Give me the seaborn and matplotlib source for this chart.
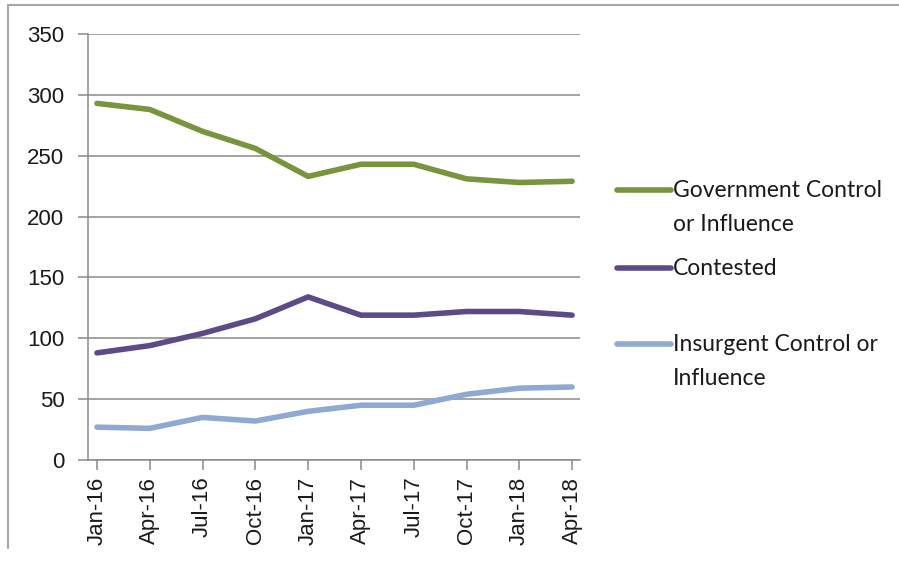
import matplotlib
matplotlib.use("Agg")
import matplotlib.pyplot as plt
import seaborn as sns
import pandas as pd
from matplotlib.lines import Line2D

# values
months = ["Jan-16", "Apr-16", "Jul-16", "Oct-16", "Jan-17",
          "Apr-17", "Jul-17", "Oct-17", "Jan-18", "Apr-18"]
government = [293, 288, 270, 256, 233, 243, 243, 231, 228, 229]
contested = [88, 94, 104, 116, 134, 119, 119, 122, 122, 119]
insurgent = [27, 26, 35, 32, 40, 45, 45, 54, 59, 60]

series_names = ["Government Control\nor Influence", "Contested",
                "Insurgent Control or\nInfluence"]
colors = ["#77953D", "#5E4A87", "#8FAAD2"]

df = pd.DataFrame({
    "month": months * 3,
    "pos": list(range(len(months))) * 3,
    "value": government + contested + insurgent,
    "series": [series_names[0]] * len(months) + [series_names[1]] * len(months)
              + [series_names[2]] * len(months),
})

sns.set_style("white")
plt.rcParams["font.family"] = ["Liberation Sans", "DejaVu Sans"]

fig = plt.figure(figsize=(8.99, 5.61), dpi=100)
ax = fig.add_axes([88 / 899, 1 - 460 / 561, (580 - 88) / 899, (460 - 34) / 561])

sns.lineplot(data=df, x="pos", y="value", hue="series", palette=colors,
             hue_order=series_names, linewidth=4, legend=False, ax=ax)

ax.set_xlim(-0.17, 9.15)
ax.set_ylim(0, 350)
ax.set_yticks(range(0, 351, 50))
ax.set_xticks(range(len(months)))
ax.set_xticklabels(months, rotation=90)
ax.set_xlabel("")
ax.set_ylabel("")
ax.grid(axis="y", color="#8a8a8a", linewidth=1.1)
ax.set_axisbelow(True)
for side in ["top", "right"]:
    ax.spines[side].set_visible(False)
for side in ["left", "bottom"]:
    ax.spines[side].set_color("#8a8a8a")
    ax.spines[side].set_linewidth(1.1)
ax.tick_params(axis="both", length=7, width=1.1, color="#8a8a8a",
               labelsize=16, labelcolor="#1a1a1a")
ax.tick_params(axis="y", left=True, pad=10)
ax.tick_params(axis="x", bottom=True, pad=5)

# legend drawn by hand so the handle sits on the first text line
legend_y = [190 / 561, 268 / 561, 344 / 561]
for name, color, y in zip(series_names, colors, legend_y):
    yf = 1 - y
    fig.add_artist(Line2D([617 / 899, 671 / 899], [yf, yf], color=color,
                          linewidth=4, solid_capstyle="round",
                          transform=fig.transFigure))
    fig.text(673 / 899, yf + 10 / 561, name, ha="left", va="top",
             fontsize=16.5, family="Lato", color="#1a1a1a", linespacing=1.75)

# outer chart frame
fig.add_artist(Line2D([8 / 899, 1.0], [1 - 5 / 561, 1 - 5 / 561],
                      color="#a6a6a6", linewidth=1.5, transform=fig.transFigure))
fig.add_artist(Line2D([8 / 899, 8 / 899], [1 - 5 / 561, 1 - 548 / 561],
                      color="#a6a6a6", linewidth=1.5, transform=fig.transFigure))

fig.savefig("out.png", dpi=100)
